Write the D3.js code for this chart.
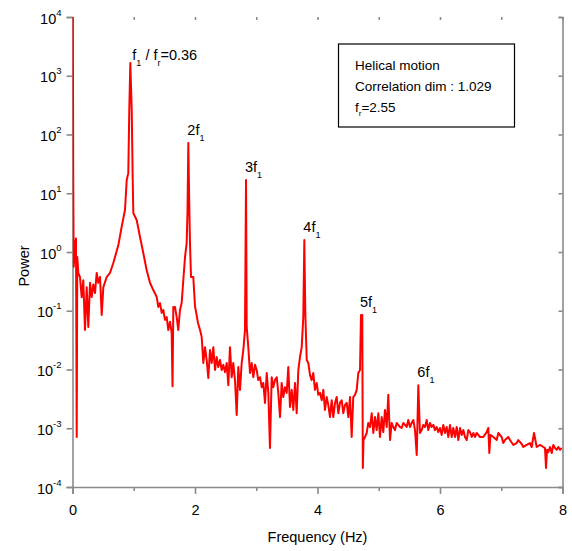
<!DOCTYPE html>
<html>
<head>
<meta charset="utf-8">
<script src="https://cdn.jsdelivr.net/npm/d3@7"></script>
<style>
  body { margin: 0; background: #fff; }
  text { font-family: "Liberation Sans", Arial, sans-serif; fill: #000; }
</style>
</head>
<body>
<div id="chart"></div>
<script>
const width = 572
const height = 551
const margin = { top: 17, right: 9.5, bottom: 64, left: 72.5 }

// spectrum
const freq = [0.005, 0.012, 0.02, 0.041, 0.057, 0.069, 0.078, 0.095, 0.122, 0.150, 0.176, 0.204, 0.232, 0.258, 0.286, 0.313, 0.340, 0.367, 0.395, 0.421,
  0.449, 0.477, 0.503, 0.558, 0.612, 0.666, 0.694, 0.748, 0.803, 0.857, 0.885, 0.911, 0.927, 0.944, 0.967, 0.983, 0.993, 1.048, 1.102, 1.156,
  1.211, 1.265, 1.319, 1.375, 1.401, 1.429, 1.456, 1.482, 1.510, 1.538, 1.564, 1.592, 1.619, 1.633, 1.646, 1.673, 1.701, 1.727, 1.755, 1.782,
  1.809, 1.837, 1.864, 1.878, 1.891, 1.905, 1.918, 1.935, 1.972, 2.000, 2.049, 2.082, 2.109, 2.136, 2.163, 2.191, 2.217, 2.245, 2.273, 2.299,
  2.327, 2.354, 2.380, 2.408, 2.436, 2.462, 2.490, 2.518, 2.544, 2.571, 2.599, 2.625, 2.653, 2.681, 2.707, 2.735, 2.762, 2.789, 2.816, 2.833,
  2.844, 2.870, 2.898, 2.926, 2.952, 2.980, 3.007, 3.033, 3.061, 3.089, 3.115, 3.143, 3.171, 3.197, 3.224, 3.252, 3.278, 3.306, 3.334, 3.360,
  3.388, 3.415, 3.442, 3.469, 3.497, 3.523, 3.551, 3.579, 3.605, 3.633, 3.660, 3.687, 3.714, 3.742, 3.768, 3.785, 3.801, 3.824, 3.850, 3.878,
  3.905, 3.931, 3.959, 3.987, 4.013, 4.041, 4.069, 4.095, 4.122, 4.150, 4.176, 4.204, 4.232, 4.258, 4.286, 4.313, 4.340, 4.367, 4.395, 4.421,
  4.449, 4.477, 4.503, 4.531, 4.558, 4.584, 4.612, 4.640, 4.666, 4.694, 4.710, 4.731, 4.740, 4.751, 4.776, 4.803, 4.829, 4.857, 4.885, 4.911,
  4.939, 4.966, 4.993, 5.020, 5.048, 5.074, 5.102, 5.130, 5.156, 5.184, 5.211, 5.238, 5.265, 5.293, 5.319, 5.347, 5.374, 5.401, 5.429, 5.456,
  5.482, 5.510, 5.538, 5.564, 5.592, 5.620, 5.646, 5.673, 5.701, 5.727, 5.755, 5.783, 5.809, 5.837, 5.864, 5.891, 5.918, 5.946, 5.972, 6.000,
  6.028, 6.054, 6.082, 6.109, 6.136, 6.163, 6.191, 6.217, 6.245, 6.273, 6.299, 6.327, 6.354, 6.381, 6.408, 6.436, 6.462, 6.490, 6.518, 6.544,
  6.571, 6.599, 6.625, 6.653, 6.707, 6.762, 6.789, 6.805, 6.824, 6.870, 6.926, 6.952, 7.007, 7.033, 7.061, 7.115, 7.143, 7.197, 7.252, 7.278,
  7.334, 7.360, 7.415, 7.469, 7.497, 7.535, 7.579, 7.633, 7.687, 7.714, 7.731, 7.747, 7.768, 7.796, 7.824, 7.850, 7.878, 7.905, 7.932, 7.959,
  7.987]

const power = [1.5e4, 19, 0.56, 1.3, 1.7, 7.1e-4, 0.82, 0.44, 0.375, 0.17, 0.33, 0.047, 0.25, 0.053, 0.30, 0.171, 0.28, 0.20, 0.44, 0.30,
  0.375, 0.085, 0.25, 0.375, 0.44, 0.65, 0.82, 1.3, 2.7, 5.2, 16.8, 22, 260, 1650, 260, 16.8, 4.6, 3.5, 1.8, 0.96,
  0.49, 0.30, 0.225, 0.171, 0.116, 0.135, 0.092, 0.103, 0.070, 0.078, 0.047, 0.065, 0.042, 0.0052, 0.116, 0.116, 0.078, 0.047, 0.103, 0.135,
  0.33, 0.82, 1.42, 5.2, 72, 7.7, 1.42, 0.375, 0.375, 0.12, 0.062, 0.047, 0.036, 0.0129, 0.024, 0.0145, 0.0072, 0.0215, 0.0129, 0.024,
  0.0098, 0.0163, 0.011, 0.0145, 0.0098, 0.012, 0.009, 0.0129, 0.0054, 0.024, 0.0074, 0.0129, 0.0066, 0.00168, 0.011, 0.0045, 0.0129, 0.0215, 0.047, 16.8,
  0.053, 0.024, 0.0087, 0.0129, 0.0074, 0.012, 0.0098, 0.0066, 0.0074, 0.005, 0.0059, 0.0027, 0.0087, 0.004, 0.00046, 0.0074, 0.005, 0.0066, 0.0074, 0.004,
  0.00155, 0.0059, 0.0034, 0.005, 0.004, 0.011, 0.0023, 0.0045, 0.00205, 0.0059, 0.0018, 0.0098, 0.0163, 0.024, 0.078, 1.6, 0.092, 0.0145, 0.0129, 0.008,
  0.0066, 0.0087, 0.0045, 0.0059, 0.0037, 0.004, 0.003, 0.0045, 0.00205, 0.0034, 0.0025, 0.00155, 0.003, 0.00155, 0.0027, 0.0034, 0.0018, 0.0027, 0.003, 0.0018,
  0.0025, 0.0027, 0.00155, 0.0034, 0.00071, 0.0034, 0.0037, 0.0045, 0.0087, 0.0098, 0.085, 0.085, 0.00021, 0.00063, 0.00071, 0.00083, 0.00123, 0.00105, 0.0018, 0.00083,
  0.00155, 0.00093, 0.0018, 0.00071, 0.00155, 0.00086, 0.00205, 0.00105, 0.0037, 0.00063, 0.00123, 0.00105, 0.00093, 0.00123, 0.00114, 0.00105, 0.00101, 0.00123, 0.00114, 0.00105,
  0.00138, 0.00105, 0.00123, 0.00138, 0.00093, 0.00035, 0.0054, 0.00083, 0.00093, 0.00114, 0.00105, 0.00138, 0.00093, 0.00123, 0.00105, 0.00114, 0.00093, 0.00105, 0.00086, 0.00101,
  0.00077, 0.00114, 0.00083, 0.00105, 0.00071, 0.00114, 0.00071, 0.00101, 0.00071, 0.00105, 0.00063, 0.00101, 0.00077, 0.00093, 0.00071, 0.00063, 0.00093, 0.00086, 0.00071, 0.00083,
  0.00071, 0.00083, 0.00077, 0.00071, 0.00071, 0.00086, 0.00101, 0.00038, 0.00077, 0.00071, 0.00063, 0.00083, 0.00071, 0.00056, 0.00063, 0.00071, 0.00063, 0.00052, 0.00056, 0.00063,
  0.00054, 0.00048, 0.00052, 0.00056, 0.00048, 0.00083, 0.00048, 0.00052, 0.00048, 0.00046, 0.00021, 0.00043, 0.00039, 0.00048, 0.00038, 0.00052, 0.00046, 0.00043, 0.00048, 0.00043,
  0.00046]

// peak labels
const peakFreq = [0.944, 1.891, 2.833, 3.785, 4.710, 5.646]
const peakPower = [1650, 72, 16.8, 1.6, 0.085, 0.0054]
const peakText = ["f", "2f", "3f", "4f", "5f", "6f"]

const xTicks = [0, 2, 4, 6, 8]
const xMinor = [1, 3, 5, 7]
const yExps = [4, 3, 2, 1, 0, -1, -2, -3, -4]

const legendLines = ["Helical motion", "Correlation dim : 1.029"]

const innerW = width - margin.left - margin.right
const innerH = height - margin.top - margin.bottom

const svg = d3.select("#chart").append("svg")
  .attr("width", width)
  .attr("height", height)

const x = d3.scaleLinear().domain([0, 8]).range([0, innerW])
const y = d3.scaleLog().domain([1e-4, 1e4]).range([innerH, 0])

const g = svg.append("g").attr("transform", `translate(${margin.left}, ${margin.top})`)

svg.append("defs").append("clipPath").attr("id", "clip")
  .append("rect").attr("width", innerW).attr("height", innerH)

const axisColor = "#8a8a8a"

// frame and ticks
const decades = yExps.map(e => Math.pow(10, e))

const yAxis = g.append("g").call(d3.axisLeft(y).tickValues(decades).tickSize(6).tickFormat(""))
const yAxisR = g.append("g").attr("transform", `translate(${innerW},0)`)
  .call(d3.axisLeft(y).tickValues(decades).tickSize(4).tickFormat(""))
const xAxis = g.append("g").attr("transform", `translate(0,${innerH})`)
  .call(d3.axisBottom(x).tickValues(xTicks).tickSize(7).tickFormat(""))
const xAxisMinor = g.append("g").attr("transform", `translate(0,${innerH})`)
  .call(d3.axisBottom(x).tickValues(xMinor).tickSize(4).tickFormat(""))
const xAxisTop = g.append("g")
  .call(d3.axisBottom(x).tickValues(xTicks.concat(xMinor)).tickSize(3).tickFormat(""))

;[yAxis, yAxisR, xAxis, xAxisMinor, xAxisTop].forEach(a => {
  a.selectAll("path").attr("stroke", axisColor).attr("stroke-width", 1.6)
  a.selectAll("line").attr("stroke", axisColor).attr("stroke-width", 1.6)
})
xAxisTop.select("path").remove()
xAxisMinor.select("path").remove()

// y tick labels 10^n
yAxis.selectAll(".tick").each(function(d, i) {
  const t = d3.select(this).append("text")
    .attr("x", -12)
    .attr("y", 6)
    .attr("text-anchor", "end")
    .attr("font-size", 14.5)
  t.append("tspan").text("10")
  t.append("tspan").attr("dy", -8).attr("font-size", 9.5).text(yExps[i] < 0 ? "-" + (-yExps[i]) : yExps[i])
})
yAxis.selectAll(".tick text").each(function() {
  const bb = this.getBBox()
  d3.select(this).attr("text-anchor", "start").attr("x", -11 - bb.width)
})

xAxis.selectAll(".tick").append("text")
  .attr("y", 28)
  .attr("text-anchor", "middle")
  .attr("font-size", 14.5)
  .text(d => d)

// spectrum
const line = d3.line().x((d, i) => x(freq[i])).y(d => y(d))

g.append("path")
  .datum(power)
  .attr("clip-path", "url(#clip)")
  .attr("fill", "none")
  .attr("stroke", "#ff0000")
  .attr("stroke-width", 2)
  .attr("stroke-linejoin", "round")
  .attr("d", line)

// peak labels
peakFreq.forEach((f, i) => {
  const t = g.append("text")
    .attr("x", x(f) + (i === 0 ? 2 : -1))
    .attr("y", y(peakPower[i]) - (i === 0 ? 3 : 8))
    .attr("font-size", 14.5)
  t.append("tspan").text(peakText[i])
  t.append("tspan").attr("dy", 6).attr("font-size", 9).text("1")
  if (i === 0) {
    t.append("tspan").attr("dy", -6).text(" / f")
    t.append("tspan").attr("dy", 6).attr("font-size", 9).text("r")
    t.append("tspan").attr("dy", -6).text("=0.36")
  }
})

// info box
const box = svg.append("g")
box.append("rect")
  .attr("x", 338.5).attr("y", 44)
  .attr("width", 176).attr("height", 83)
  .attr("fill", "none").attr("stroke", "#000").attr("stroke-width", 1.2)

legendLines.forEach((s, i) => {
  box.append("text").attr("x", 355).attr("y", 69.5 + i * 21).attr("font-size", 13.5).text(s)
})
const fr = box.append("text").attr("x", 355).attr("y", 111.5).attr("font-size", 13.5)
fr.append("tspan").text("f")
fr.append("tspan").attr("dy", 4).attr("font-size", 8).text("r")
fr.append("tspan").attr("dy", -4).text("=2.55")

// axis titles
svg.append("text")
  .attr("x", margin.left + innerW / 2)
  .attr("y", 542)
  .attr("text-anchor", "middle")
  .attr("font-size", 14.5)
  .text("Frequency (Hz)")

svg.append("text")
  .attr("transform", `translate(29, 266) rotate(-90)`)
  .attr("text-anchor", "middle")
  .attr("font-size", 14.5)
  .text("Power")
</script>
</body>
</html>
